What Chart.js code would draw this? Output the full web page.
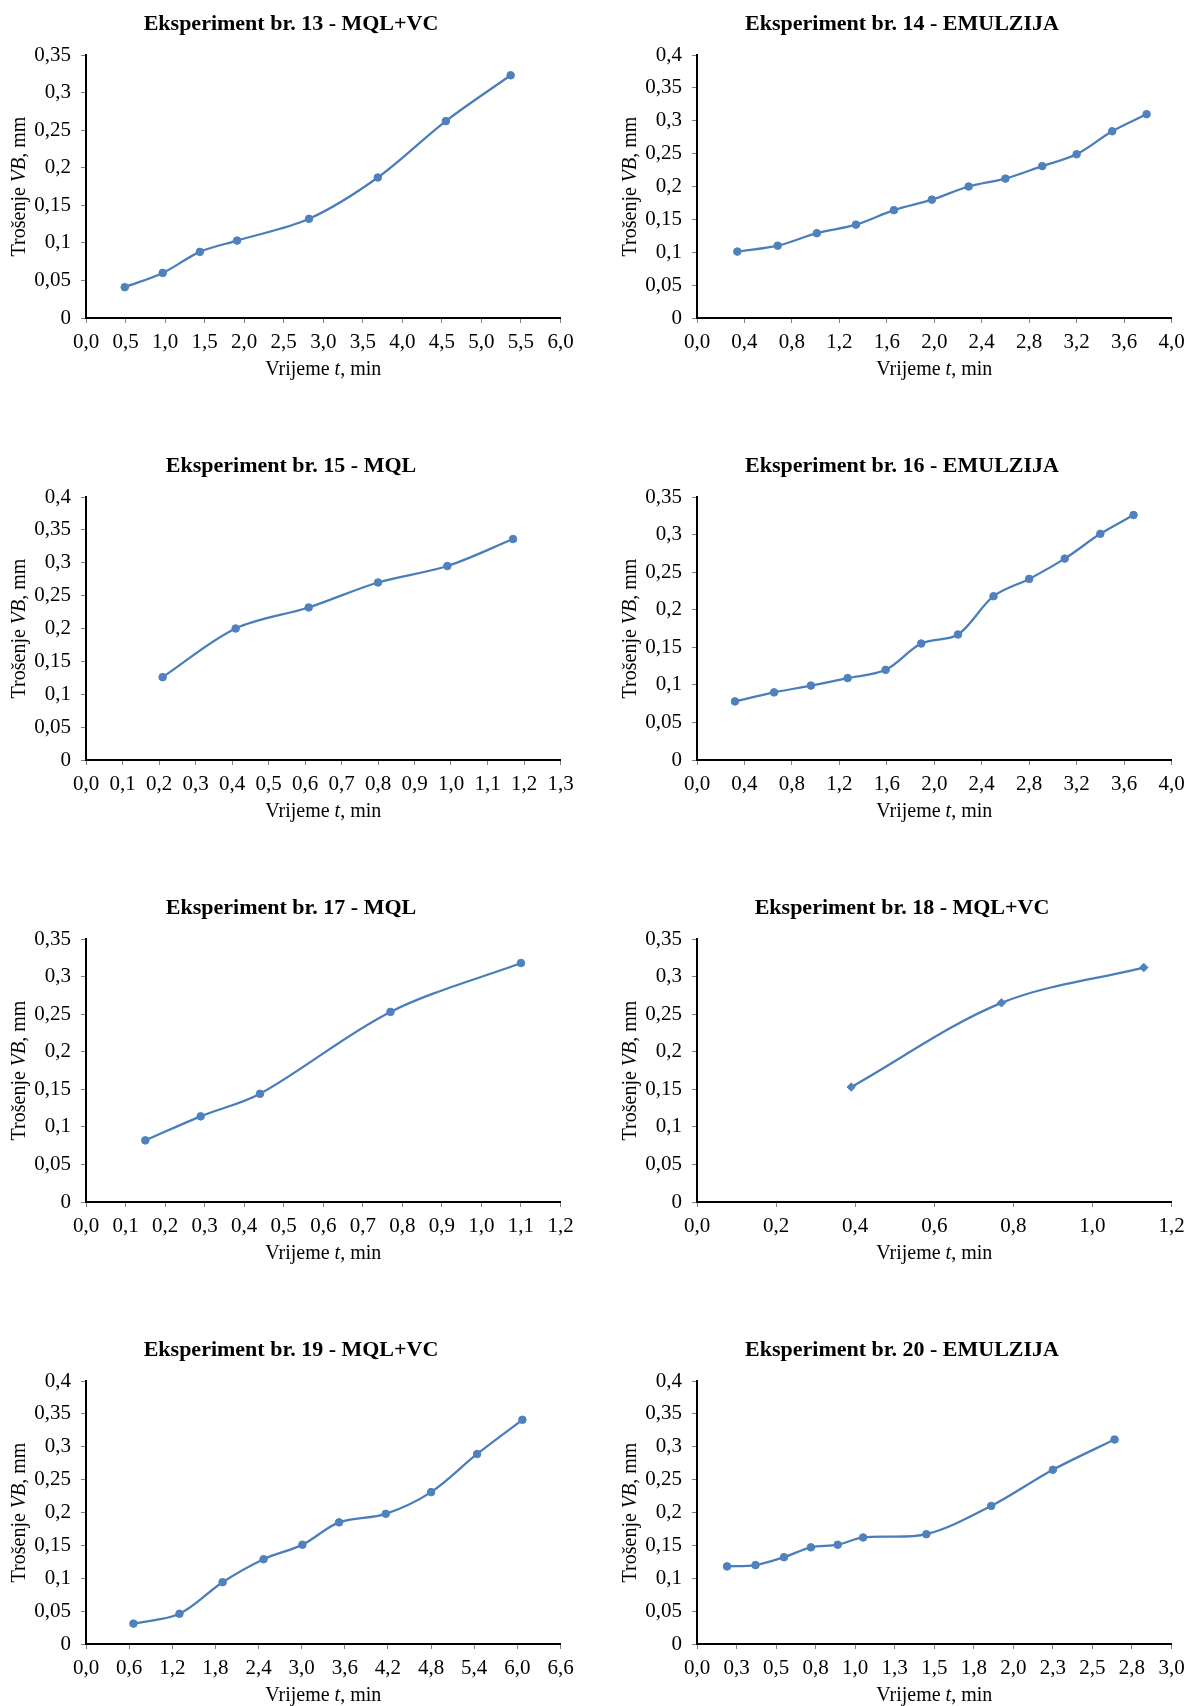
<!DOCTYPE html>
<html>
<head>
<meta charset="utf-8">
<script src="https://cdn.jsdelivr.net/npm/chart.js@4.4.0/dist/chart.umd.min.js"></script>
<style>
html, body { margin: 0; padding: 0; background: #fff; }
#wrap { position: relative; width: 1187px; height: 1706px; overflow: hidden; }
#wrap canvas { position: absolute; }
</style>
</head>
<body>
<div id="wrap"></div>
<script>
// Eksperiment 13 - 20: vrijeme t (min) i trošenje VB (mm)
var t13 = [0.49, 0.97, 1.44, 1.91, 2.82, 3.69, 4.55, 5.37];
var vb13 = [0.041, 0.060, 0.088, 0.103, 0.132, 0.187, 0.262, 0.323];

var t14 = [0.34, 0.68, 1.01, 1.34, 1.66, 1.98, 2.29, 2.60, 2.91, 3.20, 3.50, 3.79];
var vb14 = [0.101, 0.110, 0.129, 0.142, 0.164, 0.180, 0.200, 0.212, 0.231, 0.249, 0.284, 0.310];

var t15 = [0.21, 0.41, 0.61, 0.80, 0.99, 1.17];
var vb15 = [0.126, 0.200, 0.232, 0.270, 0.295, 0.336];

var t16 = [0.32, 0.65, 0.96, 1.27, 1.59, 1.89, 2.20, 2.50, 2.80, 3.10, 3.40, 3.68];
var vb16 = [0.078, 0.090, 0.099, 0.109, 0.120, 0.155, 0.167, 0.218, 0.241, 0.268, 0.301, 0.326];

var t17 = [0.15, 0.29, 0.44, 0.77, 1.10];
var vb17 = [0.082, 0.114, 0.144, 0.253, 0.318];

var t18 = [0.39, 0.77, 1.13];
var vb18 = [0.153, 0.265, 0.312];

var t19 = [0.66, 1.30, 1.90, 2.47, 3.01, 3.52, 4.17, 4.80, 5.44, 6.07];
var vb19 = [0.031, 0.046, 0.094, 0.129, 0.151, 0.185, 0.198, 0.231, 0.289, 0.341];

var t20 = [0.19, 0.37, 0.55, 0.72, 0.89, 1.05, 1.45, 1.86, 2.25, 2.64];
var vb20 = [0.118, 0.120, 0.132, 0.147, 0.151, 0.162, 0.167, 0.210, 0.265, 0.311];

// tick labels
var yTicks35 = ['0', '0,05', '0,1', '0,15', '0,2', '0,25', '0,3', '0,35'];
var yTicks40 = ['0', '0,05', '0,1', '0,15', '0,2', '0,25', '0,3', '0,35', '0,4'];
var xTicks60 = ['0,0', '0,5', '1,0', '1,5', '2,0', '2,5', '3,0', '3,5', '4,0', '4,5', '5,0', '5,5', '6,0'];
var xTicks40 = ['0,0', '0,4', '0,8', '1,2', '1,6', '2,0', '2,4', '2,8', '3,2', '3,6', '4,0'];
var xTicks13 = ['0,0', '0,1', '0,2', '0,3', '0,4', '0,5', '0,6', '0,7', '0,8', '0,9', '1,0', '1,1', '1,2', '1,3'];
var xTicks12 = ['0,0', '0,1', '0,2', '0,3', '0,4', '0,5', '0,6', '0,7', '0,8', '0,9', '1,0', '1,1', '1,2'];
var xTicks12b = ['0,0', '0,2', '0,4', '0,6', '0,8', '1,0', '1,2'];
var xTicks66 = ['0,0', '0,6', '1,2', '1,8', '2,4', '3,0', '3,6', '4,2', '4,8', '5,4', '6,0', '6,6'];
var xTicks30 = ['0,0', '0,3', '0,5', '0,8', '1,0', '1,3', '1,5', '1,8', '2,0', '2,3', '2,5', '2,8', '3,0'];

var SERIF = '"Liberation Serif", "Times New Roman", serif';
var LINE_COLOR = '#4a7ebb';
var POINT_COLOR = '#4f81bd';

var charts = [
  { title: 'Eksperiment br. 13 - MQL+VC', t: t13, vb: vb13, xMax: 6.0, xTicks: xTicks60, yMax: 0.35, yTicks: yTicks35, marker: 'circle' },
  { title: 'Eksperiment br. 14 - EMULZIJA', t: t14, vb: vb14, xMax: 4.0, xTicks: xTicks40, yMax: 0.4, yTicks: yTicks40, marker: 'circle' },
  { title: 'Eksperiment br. 15 - MQL', t: t15, vb: vb15, xMax: 1.3, xTicks: xTicks13, yMax: 0.4, yTicks: yTicks40, marker: 'circle' },
  { title: 'Eksperiment br. 16 - EMULZIJA', t: t16, vb: vb16, xMax: 4.0, xTicks: xTicks40, yMax: 0.35, yTicks: yTicks35, marker: 'circle' },
  { title: 'Eksperiment br. 17 - MQL', t: t17, vb: vb17, xMax: 1.2, xTicks: xTicks12, yMax: 0.35, yTicks: yTicks35, marker: 'circle' },
  { title: 'Eksperiment br. 18 - MQL+VC', t: t18, vb: vb18, xMax: 1.2, xTicks: xTicks12b, yMax: 0.35, yTicks: yTicks35, marker: 'rectRot' },
  { title: 'Eksperiment br. 19 - MQL+VC', t: t19, vb: vb19, xMax: 6.6, xTicks: xTicks66, yMax: 0.4, yTicks: yTicks40, marker: 'circle' },
  { title: 'Eksperiment br. 20 - EMULZIJA', t: t20, vb: vb20, xMax: 3.0, xTicks: xTicks30, yMax: 0.4, yTicks: yTicks40, marker: 'circle' }
];

// text with italic parts, centred on (cx, cy)
function drawMixed(ctx, parts, cx, cy, size) {
  var w = 0;
  parts.forEach(function(p) {
    ctx.font = (p[1] ? 'italic ' : '') + size + 'px ' + SERIF;
    w += ctx.measureText(p[0]).width;
  });
  var x = cx - w / 2;
  ctx.textAlign = 'left';
  parts.forEach(function(p) {
    ctx.font = (p[1] ? 'italic ' : '') + size + 'px ' + SERIF;
    ctx.fillText(p[0], x, cy);
    x += ctx.measureText(p[0]).width;
  });
}

var axisText = {
  id: 'axisText',
  afterDraw: function(chart) {
    var ctx = chart.ctx, a = chart.chartArea;
    var o = chart.options.plugins.axisText;
    ctx.save();
    ctx.fillStyle = '#000';
    ctx.textBaseline = 'middle';
    ctx.textAlign = 'center';
    ctx.font = 'bold 22px ' + SERIF;
    ctx.fillText(o.title, 291, 24);
    drawMixed(ctx, [['Vrijeme ', false], ['t', true], [', min', false]], (a.left + a.right) / 2, 370, 20);
    ctx.translate(20, (a.top + a.bottom) / 2);
    ctx.rotate(-Math.PI / 2);
    drawMixed(ctx, [['Trošenje ', false], ['VB', true], [', mm', false]], 0, 0, 20);
    ctx.restore();
  }
};

function tickSet(labels, max) {
  return function(scale) {
    scale.ticks = labels.map(function(l, i) {
      return { value: max * i / (labels.length - 1) };
    });
  };
}

var wrap = document.getElementById('wrap');
charts.forEach(function(c, i) {
  var col = i % 2, row = Math.floor(i / 2);
  var cv = document.createElement('canvas');
  cv.width = 576;
  cv.height = 380;
  cv.style.left = (col ? 611 : 0) + 'px';
  cv.style.top = (row * 442) + 'px';
  wrap.appendChild(cv);

  var pts = c.t.map(function(t, k) { return { x: t, y: c.vb[k] }; });

  new Chart(cv.getContext('2d'), {
    type: 'line',
    data: {
      datasets: [{
        data: pts,
        borderColor: LINE_COLOR,
        borderWidth: 2.25,
        backgroundColor: POINT_COLOR,
        pointBackgroundColor: POINT_COLOR,
        pointBorderColor: POINT_COLOR,
        pointStyle: c.marker,
        pointRadius: c.marker === 'circle' ? 3.8 : 4.2,
        pointBorderWidth: 1,
        tension: 0.33,
        fill: false
      }]
    },
    options: {
      responsive: false,
      animation: false,
      devicePixelRatio: 1,
      layout: { padding: { top: 55, left: 0, right: 15.5, bottom: 0 } },
      plugins: {
        legend: { display: false },
        title: { display: false },
        tooltip: { enabled: false },
        axisText: { title: c.title }
      },
      scales: {
        x: {
          type: 'linear',
          min: 0,
          max: c.xMax,
          afterBuildTicks: tickSet(c.xTicks, c.xMax),
          afterFit: function(s) { s.height = 62; s.paddingLeft = 0; s.paddingRight = 0; },
          grid: { drawOnChartArea: false, drawTicks: true, tickLength: 5, color: '#7f7f7f', lineWidth: 1 },
          border: { display: true, color: '#000', width: 2 },
          ticks: {
            autoSkip: false,
            maxRotation: 0,
            padding: 7,
            color: '#000',
            font: { family: SERIF, size: 21 },
            callback: function(v, k) { return c.xTicks[k]; }
          }
        },
        y: {
          type: 'linear',
          min: 0,
          max: c.yMax,
          afterBuildTicks: tickSet(c.yTicks, c.yMax),
          afterFit: function(s) { s.width = 86; },
          grid: { drawOnChartArea: false, drawTicks: true, tickLength: 5, color: '#7f7f7f', lineWidth: 1 },
          border: { display: true, color: '#000', width: 2 },
          ticks: {
            autoSkip: false,
            padding: 10,
            color: '#000',
            font: { family: SERIF, size: 21 },
            callback: function(v, k) { return c.yTicks[k]; }
          }
        }
      }
    },
    plugins: [axisText]
  });
});
</script>
</body>
</html>
